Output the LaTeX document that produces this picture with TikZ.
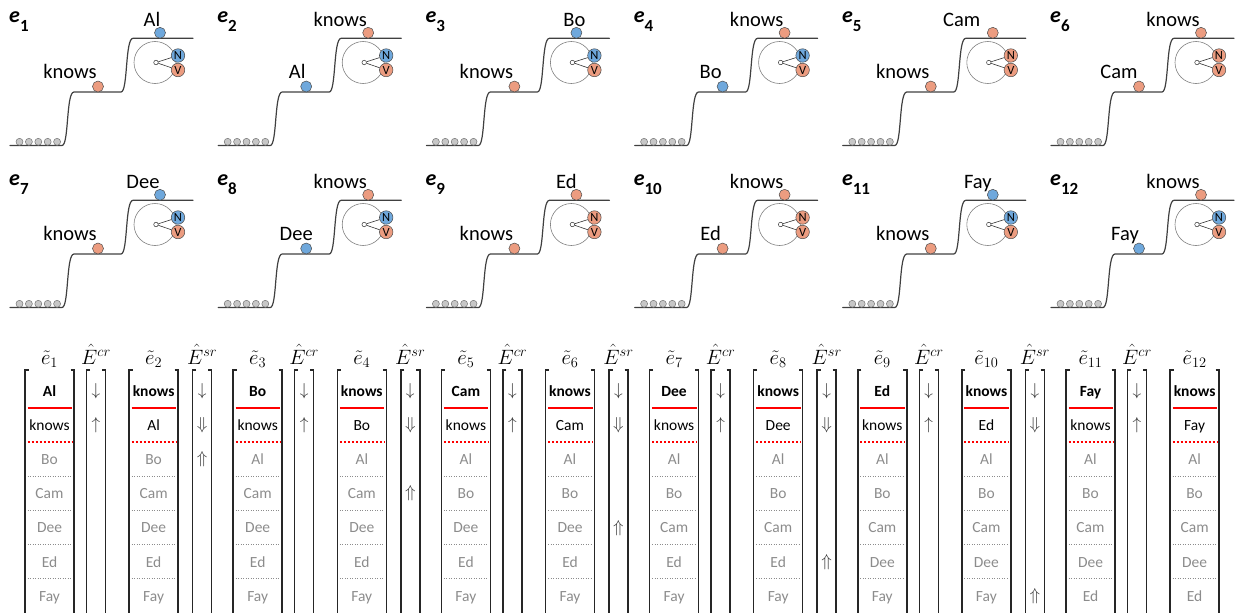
\documentclass[tikz,border=0pt]{standalone}
\usepackage{fontspec}
\setmainfont{Carlito}
\definecolor{ballblue}{HTML}{6FA8DC}
\definecolor{ballorange}{HTML}{EC9C80}
\definecolor{stepgray}{HTML}{404040}
\definecolor{sepred}{HTML}{FF0000}
\tikzset{
  stepline/.style={draw=stepgray, line width=1.2pt, line cap=round},
  smallball/.style={circle, draw=black!55, fill=black!22, line width=0.5pt, minimum size=7pt, inner sep=0pt},
  bigball/.style={circle, draw=black!70, line width=0.5pt, minimum size=11pt, inner sep=0pt},
  dialring/.style={circle, draw=black!50, line width=0.6pt, minimum size=42pt, inner sep=0pt},
  hub/.style={circle, draw=black!80, fill=white, line width=0.5pt, minimum size=4.5pt, inner sep=0pt},
  nvball/.style={circle, draw=black!70, line width=0.5pt, minimum size=13.5pt, inner sep=0pt, font=\fontsize{12.5}{12.5}\selectfont},
  spoke/.style={draw=black!80, line width=0.6pt},
  bigtext/.style={font=\fontsize{20.5}{22}\selectfont, inner sep=0pt, anchor=base},
  paneltag/.style={font=\fontsize{22}{22}\selectfont\bfseries\itshape, inner sep=0pt, anchor=base west},
  tabtext/.style={font=\fontsize{15.5}{17}\selectfont, inner sep=0pt, anchor=base},
  tabbold/.style={font=\fontsize{15.5}{17}\selectfont\bfseries, inner sep=0pt, anchor=base},
  tabgray/.style={tabtext, text=black!45},
  headtext/.style={font=\fontsize{19.5}{21}\selectfont, inner sep=0pt, anchor=base},
  arrowtext/.style={font=\fontsize{16}{18}\selectfont, inner sep=0pt, text=black!80},
  bracketline/.style={draw=black!85, line width=1.5pt, line join=miter},
  redsolid/.style={draw=sepred, line width=2pt},
  reddot/.style={draw=sepred, line width=2pt, dash pattern=on 2pt off 2pt},
  graydot/.style={draw=black!45, line width=0.6pt, dash pattern=on 1pt off 1.5pt},
}
\newcommand\basepanel[9]{%
\begin{scope}[shift={(#2,#3)}]
  \node[paneltag] (p#1tag) at (9,23) {e\raisebox{-9pt}{\fontsize{17}{17}\selectfont\upshape #1}};
  \draw[stepline] (10,145.5) -- (62,145.5) .. controls (69,145.5) and (66,92) .. (74,92) -- (121,92) .. controls (128,92) and (125,38.3) .. (133,38.3) -- (193,38.3);
  \foreach \i/\xx in {1/19.5,2/28.9,3/38.3,4/47.7,5/57.1}
    \node[smallball] (p#1s\i) at (\xx,141.8) {};
  \node[bigball, fill=#9] (p#1mid) at (98,86.5) {};
  \node[bigball, fill=#6] (p#1top) at (160,32.8) {};
  \node[bigtext] (p#1midlab) at (#8,78) {#7};
  \node[bigtext] (p#1toplab) at (#5,26.5) {#4};
  \node[dialring] (p#1dial) at (155,62.5) {};
  \node[hub] (p#1hub) at (156,62.5) {};
  \node[nvball, fill=\Ncol] (p#1N) at (178,55.5) {N};
  \node[nvball, fill=ballorange] (p#1V) at (178,70) {V};
  \draw[spoke] (p#1hub) -- (p#1N);
  \draw[spoke] (p#1hub) -- (p#1V);
\end{scope}}
\newcommand\oddpanel[6]{\def\Ncol{#6}\basepanel{#1}{#2}{#3}{#4}{#5}{#6}{knows}{70}{ballorange}}
\newcommand\evenpanel[6]{\def\Ncol{#6}\basepanel{#1}{#2}{#3}{knows}{132}{ballorange}{#4}{#5}{#6}}
\begin{document}
\begin{tikzpicture}[x=1pt,y=-1pt]
\useasboundingbox (0,0) rectangle (1235,613);
\oddpanel{1}{0}{0}{Al}{152}{ballblue}
\evenpanel{2}{208.2}{0}{Al}{89}{ballblue}
\oddpanel{3}{416.4}{0}{Bo}{158}{ballblue}
\evenpanel{4}{624.6}{0}{Bo}{86}{ballblue}
\oddpanel{5}{832.8}{0}{Cam}{129}{ballorange}
\evenpanel{6}{1041}{0}{Cam}{78}{ballorange}
\oddpanel{7}{0}{162}{Dee}{143}{ballblue}
\evenpanel{8}{208.2}{162}{Dee}{88}{ballblue}
\oddpanel{9}{416.4}{162}{Ed}{150}{ballorange}
\evenpanel{10}{624.6}{162}{Ed}{86}{ballorange}
\oddpanel{11}{832.8}{162}{Fay}{145}{ballblue}
\evenpanel{12}{1041}{162}{Fay}{84}{ballblue}
% table columns
\foreach \k/\ca/\cb/\cc/\cd/\ce/\cf/\cg in {
  1/Al/knows/Bo/Cam/Dee/Ed/Fay, 2/knows/Al/Bo/Cam/Dee/Ed/Fay,
  3/Bo/knows/Al/Cam/Dee/Ed/Fay, 4/knows/Bo/Al/Cam/Dee/Ed/Fay,
  5/Cam/knows/Al/Bo/Dee/Ed/Fay, 6/knows/Cam/Al/Bo/Dee/Ed/Fay,
  7/Dee/knows/Al/Bo/Cam/Ed/Fay, 8/knows/Dee/Al/Bo/Cam/Ed/Fay,
  9/Ed/knows/Al/Bo/Cam/Dee/Fay, 10/knows/Ed/Al/Bo/Cam/Dee/Fay,
  11/Fay/knows/Al/Bo/Cam/Dee/Ed, 12/knows/Fay/Al/Bo/Cam/Dee/Ed}{
  \pgfmathsetmacro\xc{49.5+104.1*(\k-1)}
  \node[headtext] (h\k) at (\xc,364) {$\tilde{e}_{\k}$};
  \draw[bracketline] (\xc-21,370) -- (\xc-24.5,370) -- (\xc-24.5,614);
  \draw[bracketline] (\xc+21,370) -- (\xc+24.5,370) -- (\xc+24.5,614);
  \node[tabbold] (t\k r1) at (\xc,396) {\ca};
  \node[tabtext] (t\k r2) at (\xc,430.2) {\cb};
  \node[tabgray] (t\k r3) at (\xc,464.4) {\cc};
  \node[tabgray] (t\k r4) at (\xc,498.6) {\cd};
  \node[tabgray] (t\k r5) at (\xc,532.8) {\ce};
  \node[tabgray] (t\k r6) at (\xc,567) {\cf};
  \node[tabgray] (t\k r7) at (\xc,601.2) {\cg};
  \draw[redsolid] (\xc-22,407.5) -- (\xc+22.5,407.5);
  \draw[reddot] (\xc-22,441.5) -- (\xc+22.5,441.5);
  \foreach \yy in {476,510.2,544.4,578.6}
    \draw[graydot] (\xc-22,\yy) -- (\xc+22,\yy);
}
% E^cr columns
\foreach \k in {1,3,5,7,9,11}{
  \pgfmathsetmacro\xe{49.5+104.1*(\k-1)+46.5}
  \node[headtext] (ecr\k) at (\xe,364) {$\hat{E}^{cr}$};
  \draw[bracketline] (\xe-6,370) -- (\xe-9.5,370) -- (\xe-9.5,614);
  \draw[bracketline] (\xe+6,370) -- (\xe+9.5,370) -- (\xe+9.5,614);
  \node[arrowtext] (cra\k) at (\xe,391) {$\downarrow$};
  \node[arrowtext] (crb\k) at (\xe,425.2) {$\uparrow$};
}
% E^sr columns
\foreach \k/\m in {2/3,4/4,6/5,8/6,10/7}{
  \pgfmathsetmacro\xe{49.5+104.1*(\k-1)+48.5}
  \pgfmathsetmacro\ym{391+34.2*(\m-1)}
  \node[headtext] (esr\k) at (\xe,364) {$\hat{E}^{sr}$};
  \draw[bracketline] (\xe-6,370) -- (\xe-9.5,370) -- (\xe-9.5,614);
  \draw[bracketline] (\xe+6,370) -- (\xe+9.5,370) -- (\xe+9.5,614);
  \node[arrowtext] (sra\k) at (\xe,391) {$\downarrow$};
  \node[arrowtext] (srb\k) at (\xe,425.2) {$\Downarrow$};
  \node[arrowtext] (src\k) at (\xe,\ym) {$\Uparrow$};
}
\end{tikzpicture}
\end{document}
